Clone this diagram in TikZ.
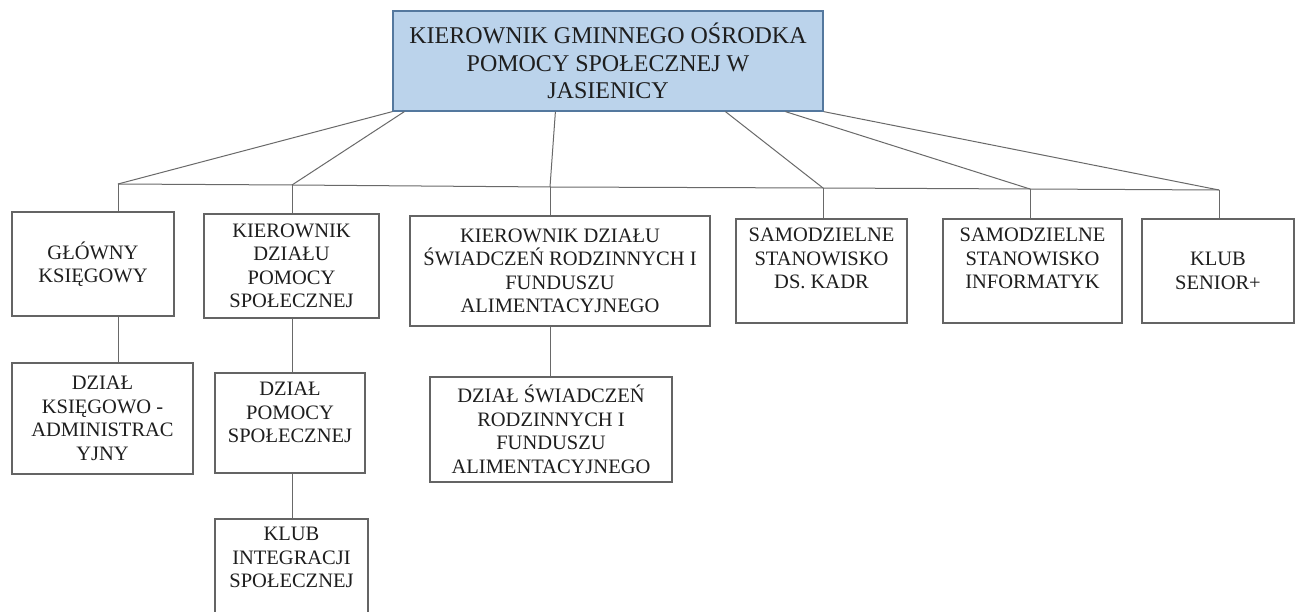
\documentclass[tikz,border=0pt]{standalone}
\usepackage{fontspec}
\setmainfont{Liberation Serif}
\usetikzlibrary{calc}
\definecolor{topfill}{RGB}{187,211,235}
\definecolor{topdraw}{RGB}{84,120,158}
\definecolor{boxdraw}{RGB}{100,100,100}
\definecolor{linecol}{RGB}{105,105,105}
\definecolor{txt}{RGB}{30,30,30}
\begin{document}
\begin{tikzpicture}[x=1pt,y=-1pt,
  unitbox/.style={draw=boxdraw, line width=1.2pt, align=center, inner sep=0pt,
    font=\fontsize{20.5}{23.5}\selectfont, text=txt},
  headbox/.style={draw=topdraw, fill=topfill, line width=1.2pt, align=center, inner sep=0pt,
    font=\fontsize{24}{27.5}\selectfont, text=txt},
  conn/.style={draw=linecol, line width=1pt}]
\useasboundingbox[fill=white] (0,0) rectangle (1296,612);
\clip (0,0) rectangle (1296,612);

\node[headbox, minimum width=430, minimum height=100] (top) at (608,61)
  {KIEROWNIK GMINNEGO OŚRODKA\\POMOCY SPOŁECZNEJ W\\JASIENICY};

\node[unitbox, minimum width=162, minimum height=104] (b1) at (93,264)
  {GŁÓWNY\\KSIĘGOWY};
\node[unitbox, minimum width=175, minimum height=104] (b2) at (291.5,266)
  {KIEROWNIK\\DZIAŁU\\POMOCY\\SPOŁECZNEJ};
\node[unitbox, minimum width=300, minimum height=110] (b3) at (560,271)
  {KIEROWNIK DZIAŁU\\ŚWIADCZEŃ RODZINNYCH I\\FUNDUSZU\\ALIMENTACYJNEGO};
\node[unitbox, minimum width=171, minimum height=104, text depth=25pt] (b4) at (821.5,271)
  {SAMODZIELNE\\STANOWISKO\\DS. KADR};
\node[unitbox, minimum width=179, minimum height=104, text depth=25pt] (b5) at (1032.5,271)
  {SAMODZIELNE\\STANOWISKO\\INFORMATYK};
\node[unitbox, minimum width=152, minimum height=104] (b6) at (1218,271)
  {KLUB\\SENIOR+};

\node[unitbox, minimum width=181, minimum height=111] (b7) at (102.5,418.5)
  {DZIAŁ\\KSIĘGOWO -\\ADMINISTRAC\\YJNY};
\node[unitbox, minimum width=150, minimum height=100, text depth=21pt] (b8) at (290,423)
  {DZIAŁ\\POMOCY\\SPOŁECZNEJ};
\node[unitbox, minimum width=153, minimum height=100, text depth=23pt] (b9) at (291.5,569)
  {KLUB\\INTEGRACJI\\SPOŁECZNEJ};
\node[unitbox, minimum width=242, minimum height=105] (b10) at (551,429.5)
  {DZIAŁ ŚWIADCZEŃ\\RODZINNYCH I\\FUNDUSZU\\ALIMENTACYJNEGO};

\coordinate (j1) at (118,184);
\coordinate (j2) at (292,185);
\coordinate (j3) at (550,187);
\coordinate (j4) at (823,188);
\coordinate (j5) at (1030,189);
\coordinate (j6) at (1219,190);

\draw[conn] (top.south west) -- (j1);
\draw[conn] ($(top.south west)+(12,0)$) -- (j2);
\draw[conn] ($(top.south west)+(163,0)$) -- (j3);
\draw[conn] ($(top.south west)+(333,0)$) -- (j4);
\draw[conn] ($(top.south west)+(393,0)$) -- (j5);
\draw[conn] (top.south east) -- (j6);
\draw[conn] (j1) -- (j2) -- (j3) -- (j4) -- (j5) -- (j6);

\draw[conn] (j1) -- (j1 |- b1.north);
\draw[conn] (j2) -- (j2 |- b2.north);
\draw[conn] (j3) -- (j3 |- b3.north);
\draw[conn] (j4) -- (j4 |- b4.north);
\draw[conn] (j5) -- (j5 |- b5.north);
\draw[conn] (j6) -- (j6 |- b6.north);

\draw[conn] (j1 |- b1.south) -- (j1 |- b7.north);
\draw[conn] (j2 |- b2.south) -- (j2 |- b8.north);
\draw[conn] (j2 |- b8.south) -- (j2 |- b9.north);
\draw[conn] (j3 |- b3.south) -- (j3 |- b10.north);
\end{tikzpicture}
\end{document}
